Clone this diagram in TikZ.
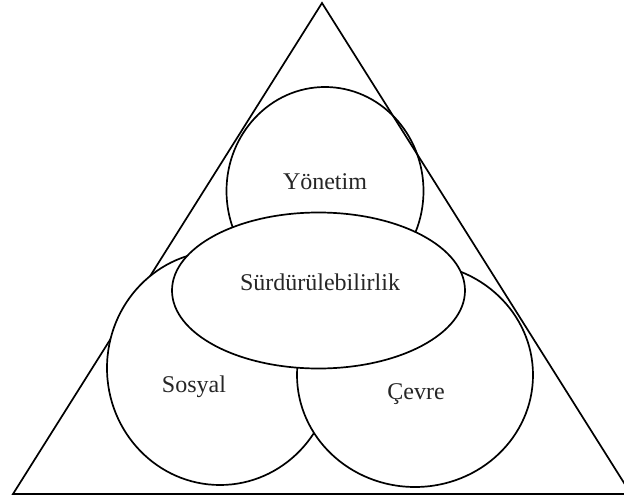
\documentclass[tikz,border=0pt]{standalone}
\usepackage{fontspec}
\setmainfont{Liberation Serif}
\usetikzlibrary{shapes.geometric}
\begin{document}
\begin{tikzpicture}[x=1pt,y=-1pt,
  outline/.style={line width=1.7pt,black},
  blob/.style={ellipse,draw,outline,fill=white,inner sep=0pt},
  lbl/.style={font=\fontsize{24}{28}\selectfont,inner sep=0pt,text=black!85}]
\useasboundingbox (0,0) rectangle (624,503);
% top pillar sits under the triangle's sides
\node[blob,minimum width=197pt,minimum height=208pt] (gov) at (325,191) {};
% outer triangle
\coordinate (apex) at (322,3);
\coordinate (bl) at (13,494);
\coordinate (br) at (631,494);
\draw[outline,line join=miter] (apex) -- (bl) -- (br) -- cycle;
\draw[line width=2.2pt] (bl) -- (br);
% lower pillars and the central ellipse, later ones covering earlier ones
\node[blob,minimum width=226pt,minimum height=234pt] (soc) at (220,368) {};
\node[blob,minimum width=236pt,minimum height=224pt] (env) at (415,375) {};
\node[blob,minimum width=293pt,minimum height=156pt] (sus) at (318.5,290.5) {};
% labels
\node[lbl] (tgov) at (325,182) {Yönetim};
\node[lbl] (tsus) at (320,282) {Sürdürülebilirlik};
\node[lbl] (tsoc) at (194,387) {Sosyal};
\node[lbl] (tenv) at (416,394) {Çevre};
\end{tikzpicture}
\end{document}
